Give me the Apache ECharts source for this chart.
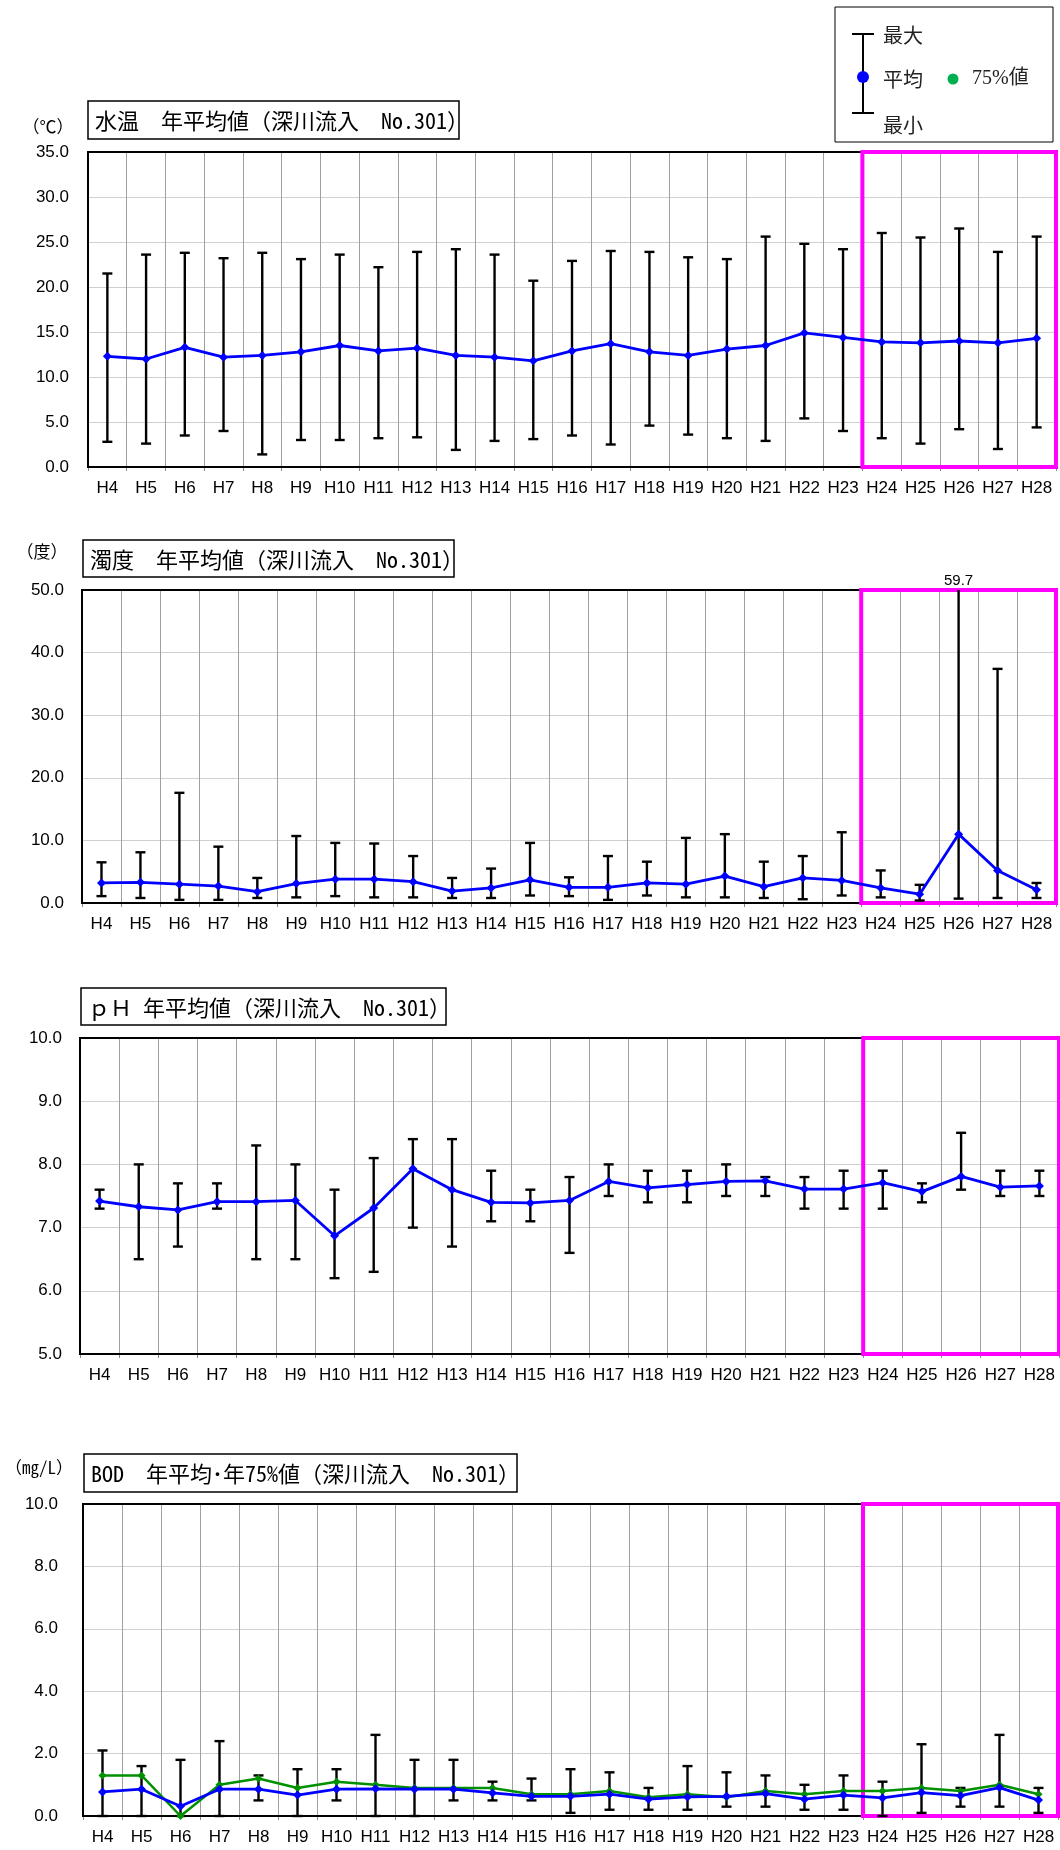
<!DOCTYPE html>
<html><head><meta charset="utf-8">
<script src="https://cdn.jsdelivr.net/npm/echarts@6/dist/echarts.min.js"></script>
<style>html,body{margin:0;padding:0;background:#fff}#c{width:1060px;height:1850px}</style>
</head><body><div id="c"></div>
<script>
// ---------- data ----------
const categories = ['H4','H5','H6','H7','H8','H9','H10','H11','H12','H13','H14','H15','H16','H17','H18','H19','H20','H21','H22','H23','H24','H25','H26','H27','H28'];
const highlightRange = ['H24','H28'];

const tempMean = [12.3,12.0,13.3,12.2,12.4,12.8,13.5,12.9,13.2,12.4,12.2,11.8,12.9,13.7,12.8,12.4,13.1,13.5,14.9,14.4,13.9,13.8,14.0,13.8,14.3];
const tempMax  = [21.5,23.6,23.8,23.2,23.8,23.1,23.6,22.2,23.9,24.2,23.6,20.7,22.9,24.0,23.9,23.3,23.1,25.6,24.8,24.2,26.0,25.5,26.5,23.9,25.6];
const tempMin  = [2.8,2.6,3.5,4.0,1.4,3.0,3.0,3.2,3.3,1.9,2.9,3.1,3.5,2.5,4.6,3.6,3.2,2.9,5.4,4.0,3.2,2.6,4.2,2.0,4.4];

const turbMean = [3.2,3.3,3.0,2.7,1.8,3.1,3.8,3.8,3.4,1.9,2.4,3.7,2.5,2.5,3.2,3.0,4.3,2.6,4.0,3.6,2.4,1.4,11.0,5.2,2.1];
const turbMax  = [6.5,8.1,17.6,9.0,4.0,10.7,9.6,9.5,7.5,4.0,5.5,9.6,4.1,7.5,6.6,10.4,11.0,6.6,7.5,11.3,5.2,2.9,59.7,37.4,3.2];
const turbMin  = [1.1,0.8,0.5,0.5,0.8,0.9,1.1,0.9,0.9,0.8,0.8,1.2,1.1,0.5,1.2,0.9,0.9,0.8,0.6,1.2,0.9,0.4,0.7,0.8,0.8];

const phMean = [7.42,7.33,7.28,7.41,7.41,7.43,6.87,7.31,7.93,7.60,7.40,7.39,7.43,7.73,7.63,7.68,7.73,7.74,7.61,7.61,7.71,7.57,7.81,7.64,7.66];
const phMax  = [7.6,8.0,7.7,7.7,8.3,8.0,7.6,8.1,8.4,8.4,7.9,7.6,7.8,8.0,7.9,7.9,8.0,7.8,7.8,7.9,7.9,7.7,8.5,7.9,7.9];
const phMin  = [7.3,6.5,6.7,7.3,6.5,6.5,6.2,6.3,7.0,6.7,7.1,7.1,6.6,7.5,7.4,7.4,7.5,7.5,7.3,7.3,7.3,7.4,7.6,7.5,7.5];

const bodMean = [0.77,0.86,0.31,0.86,0.86,0.67,0.86,0.87,0.86,0.86,0.74,0.63,0.63,0.70,0.54,0.61,0.63,0.72,0.54,0.67,0.58,0.75,0.65,0.91,0.51];
const bod75   = [1.3,1.3,0.0,1.0,1.2,0.9,1.1,1.0,0.9,0.9,0.9,0.7,0.7,0.8,0.6,0.7,0.6,0.8,0.7,0.8,0.8,0.9,0.8,1.0,0.7];
const bodMax  = [2.1,1.6,1.8,2.4,1.3,1.5,1.5,2.6,1.8,1.8,1.1,1.2,1.5,1.4,0.9,1.6,1.4,1.3,1.0,1.3,1.1,2.3,0.9,2.6,0.9];
const bodMin  = [0,0,0,0,0.5,0,0.5,0,0,0.5,0.5,0.5,0.1,0.2,0.2,0.2,0.3,0.3,0.2,0.2,0,0.1,0.3,0.3,0.1];

const panelTitles = ['水温　年平均値（深川流入　No.301）','濁度　年平均値（深川流入　No.301）','ｐＨ 年平均値（深川流入　No.301）','BOD　年平均･年75%値（深川流入　No.301）'];
const panelUnits = ['（℃）','（度）','','（mg/L）'];
const yMins = [0,0,5,0];
const yMaxs = [35,50,10,10];
const yIntervals = [5,10,1,2];
const legendLabels = ['最大','平均','最小','75%値'];

// ---------- layout ----------
const layout = [
  {left:88, top:152, width:968, height:315, lm:19, tb:{x:88,y:101,w:371,h:38}, unitX:48, unitY:127},
  {left:82, top:590, width:974, height:313, lm:18, tb:{x:83,y:540,w:371,h:37}, unitX:42, unitY:552},
  {left:80, top:1038, width:979, height:316, lm:18, tb:{x:81,y:988,w:365,h:37}, unitX:40, unitY:1000},
  {left:83, top:1504, width:975, height:312, lm:25, tb:{x:84,y:1454,w:433,h:38}, unitX:39, unitY:1468}
];
const panelData = [
  {mean:tempMean, max:tempMax, min:tempMin},
  {mean:turbMean, max:turbMax, min:turbMin},
  {mean:phMean, max:phMax, min:phMin},
  {mean:bodMean, max:bodMax, min:bodMin, p75:bod75}
];

const NUMFONT = 'Liberation Sans';
const CJK = '"Noto Sans CJK JP"';
const MONO = '"Noto Sans Mono CJK JP", "Noto Sans CJK JP"';

function errRender(axisMax) {
  return function (params, api) {
    const i = api.value(0), hi = api.value(1), lo = api.value(2);
    const top = api.coord([i, Math.min(hi, axisMax)]);
    const bot = api.coord([i, lo]);
    const cw = 5;
    const st = {stroke:'#000', lineWidth:2.4};
    const ch = [{type:'line', shape:{x1:top[0],y1:top[1],x2:bot[0],y2:bot[1]}, style:st}];
    if (hi <= axisMax) ch.push({type:'line', shape:{x1:top[0]-cw,y1:top[1],x2:top[0]+cw,y2:top[1]}, style:st});
    else ch.push({type:'text', style:{text:hi.toFixed(1), x:top[0], y:top[1]-2, align:'center', verticalAlign:'bottom', font:'15px '+NUMFONT, fill:'#000'}});
    ch.push({type:'line', shape:{x1:bot[0]-cw,y1:bot[1],x2:bot[0]+cw,y2:bot[1]}, style:st});
    return {type:'group', children:ch};
  };
}

const grids = [], xAxes = [], yAxes = [], series = [], graphics = [];
const hs = categories.indexOf(highlightRange[0]);
const he = categories.indexOf(highlightRange[1]) + 1;

layout.forEach((L, i) => {
  grids.push({left:L.left, top:L.top, width:L.width, height:L.height, containLabel:false});
  const cx = xAxes.length;
  xAxes.push({type:'category', gridIndex:i, data:categories, boundaryGap:true,
    axisLine:{show:true, lineStyle:{color:'#000', width:2}},
    axisTick:{show:true, length:4, lineStyle:{color:'#888'}},
    axisLabel:{interval:0, color:'#000', fontSize:17, fontFamily:NUMFONT, margin:13, hideOverlap:false},
    splitLine:{show:true, interval:0, lineStyle:{color:'#a0a0a0', width:1}}});
  const vx = xAxes.length;
  xAxes.push({type:'value', gridIndex:i, min:0, max:categories.length, show:false});
  yAxes.push({type:'value', gridIndex:i, min:yMins[i], max:yMaxs[i], interval:yIntervals[i],
    axisLine:{show:true, lineStyle:{color:'#000', width:2}},
    axisTick:{show:false},
    axisLabel:{formatter:v => v.toFixed(1), color:'#000', fontSize:17, fontFamily:NUMFONT, margin:L.lm},
    splitLine:{show:true, lineStyle:{color:'#d0d0d0', width:1}}});
  const D = panelData[i];
  series.push({type:'custom', xAxisIndex:cx, yAxisIndex:i, z:3, silent:true,
    renderItem: errRender(yMaxs[i]),
    encode:{x:0, y:[1,2]},
    data: categories.map((c, k) => [k, D.max[k], D.min[k]])});
  if (D.p75) {
    series.push({type:'line', xAxisIndex:cx, yAxisIndex:i, z:4, data:D.p75, symbol:'diamond', symbolSize:8,
      itemStyle:{color:'#009000'}, lineStyle:{color:'#009000', width:2.5}, silent:true});
  }
  series.push({type:'line', xAxisIndex:cx, yAxisIndex:i, z:5, data:D.mean, symbol:'diamond', symbolSize:9,
    itemStyle:{color:'#0000ff'}, lineStyle:{color:'#0000ff', width:2.8}, silent:true});
  series.push({type:'line', xAxisIndex:vx, yAxisIndex:i, z:6, data:[], silent:true,
    markArea:{silent:true, itemStyle:{color:'rgba(0,0,0,0)', borderColor:'#ff00ff', borderWidth:4},
      data:[[{xAxis:hs},{xAxis:he}]]}});
  graphics.push({type:'rect', z:1, shape:{x:L.left, y:L.top, width:L.width, height:L.height},
    style:{fill:'none', stroke:'#000', lineWidth:2}});
  graphics.push({type:'rect', z:1, shape:{x:L.tb.x, y:L.tb.y, width:L.tb.w, height:L.tb.h},
    style:{fill:'#fff', stroke:'#000', lineWidth:1.5}});
  graphics.push({type:'text', z:2, style:{text:panelTitles[i], x:L.tb.x+7, y:L.tb.y+L.tb.h/2+1,
    align:'left', verticalAlign:'middle', font:'22px '+MONO, fill:'#000'}});
  if (panelUnits[i]) graphics.push({type:'text', z:2, style:{text:panelUnits[i], x:L.unitX, y:L.unitY,
    align:'center', verticalAlign:'middle', font:'17px '+MONO, fill:'#000'}});
});

graphics.push({type:'rect', z:1, shape:{x:835, y:7, width:218, height:135}, style:{fill:'#fff', stroke:'#000', lineWidth:1}});
graphics.push({type:'line', z:2, shape:{x1:863,y1:34,x2:863,y2:113}, style:{stroke:'#000', lineWidth:2}});
graphics.push({type:'line', z:2, shape:{x1:852,y1:34,x2:874,y2:34}, style:{stroke:'#000', lineWidth:2}});
graphics.push({type:'line', z:2, shape:{x1:852,y1:113,x2:874,y2:113}, style:{stroke:'#000', lineWidth:2}});
graphics.push({type:'circle', z:3, shape:{cx:863, cy:77, r:6}, style:{fill:'#0000ff'}});
graphics.push({type:'circle', z:3, shape:{cx:953, cy:79, r:5.5}, style:{fill:'#00b050'}});
graphics.push({type:'text', z:2, style:{text:legendLabels[0], x:883, y:35, align:'left', verticalAlign:'middle', font:'20px '+CJK, fill:'#222'}});
graphics.push({type:'text', z:2, style:{text:legendLabels[1], x:883, y:79, align:'left', verticalAlign:'middle', font:'20px '+CJK, fill:'#222'}});
graphics.push({type:'text', z:2, style:{text:legendLabels[2], x:883, y:125, align:'left', verticalAlign:'middle', font:'20px '+CJK, fill:'#222'}});
graphics.push({type:'text', z:2, style:{text:legendLabels[3], x:972, y:79, align:'left', verticalAlign:'middle', font:'20px "Liberation Serif", '+CJK, fill:'#222'}});

const chart = echarts.init(document.getElementById('c'), null, {renderer:'canvas'});
chart.setOption({
  animation:false,
  backgroundColor:'#fff',
  grid:grids, xAxis:xAxes, yAxis:yAxes, series:series,
  graphic:{elements:graphics}
});
</script></body></html>
